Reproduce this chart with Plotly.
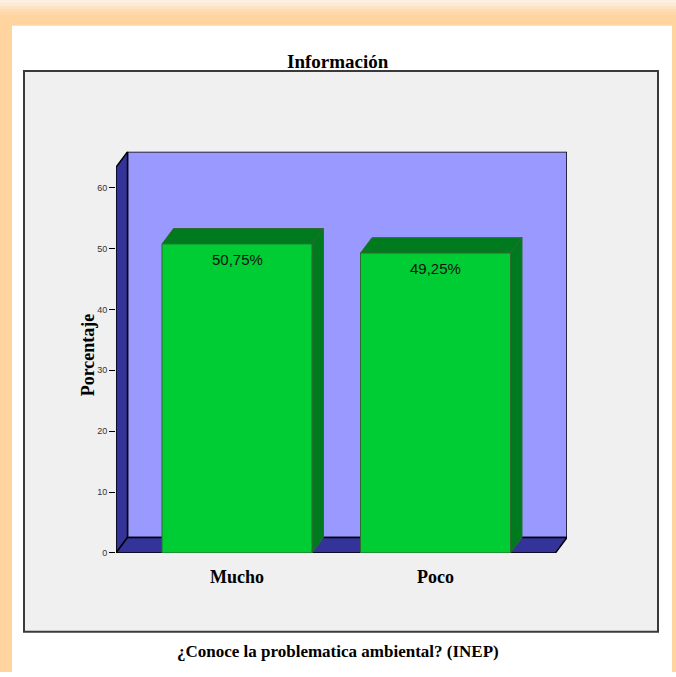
import plotly.graph_objects as go

categories = ["Mucho", "Poco"]
percentages = [50.75, 49.25]
y_ticks = [0, 10, 20, 30, 40, 50, 60]

W, H = 676, 677

# pixel geometry of the 3D plot frame
X0, X1 = 116, 567          # left axis / right edge of back wall
Y_BOT, Y_TOP = 557, 153    # front floor line / top of back wall
PX_PER_UNIT = (557 - 189) / 60
SLOT_PX = 198.5            # distance between category centres
FIRST_CENTRE = 237
DEPTH_X, DEPTH_Y = 11.5, 15.5
BAR_PX = 150

x_range = [(X0 - FIRST_CENTRE) / SLOT_PX, (X1 - FIRST_CENTRE) / SLOT_PX]
y_range = [0, (Y_BOT - Y_TOP) / PX_PER_UNIT]
dx = DEPTH_X / SLOT_PX
dy = DEPTH_Y / PX_PER_UNIT
bar_w = BAR_PX / SLOT_PX

ORANGE = "#FFD49E"
WALL_BACK = "#9999FF"
WALL_DARK = "#333399"
BAR_FRONT = "#00CC33"
BAR_DARK = "#007A1E"
SERIF = "Liberation Serif, Times New Roman, serif"
SANS = "Arial, Liberation Sans, sans-serif"


def py(y):
    return 1 - y / H


def px(x):
    return x / W


xs = list(range(len(categories)))

fig = go.Figure(go.Bar(
    x=xs,
    y=percentages,
    width=bar_w,
    marker={"color": BAR_FRONT, "line": {"color": "#2E6B2E", "width": 1}},
    hoverinfo="skip",
))

shapes = []

# orange page frame (left, right, top with a light gradient)
shapes.append(dict(type="rect", xref="paper", yref="paper", layer="below",
                   x0=0, x1=px(12), y0=0, y1=1, fillcolor=ORANGE, line={"width": 0}))
shapes.append(dict(type="rect", xref="paper", yref="paper", layer="below",
                   x0=px(672), x1=1, y0=0, y1=1, fillcolor=ORANGE, line={"width": 0}))
shapes.append(dict(type="rect", xref="paper", yref="paper", layer="below",
                   x0=0, x1=1, y0=py(26), y1=1, fillcolor=ORANGE, line={"width": 0}))
top_cols = ["#FDF0E0", "#FDEAD2", "#FEE3C3", "#FEDDB4", "#FED8A8"]
for i, c in enumerate(top_cols):
    shapes.append(dict(type="rect", xref="paper", yref="paper", layer="below",
                       x0=0, x1=1, y0=py(i * 3 + 3), y1=py(i * 3),
                       fillcolor=c, line={"width": 0}))
# chart box
shapes.append(dict(type="rect", xref="paper", yref="paper", layer="below",
                   x0=px(24), x1=px(658), y0=py(636.5), y1=py(71.5),
                   fillcolor="#F0F0F0", line={"color": "#3A3A3A", "width": 2}))

xl, xr = x_range
yt = y_range[1]
# back wall
shapes.append(dict(type="rect", xref="x", yref="y", layer="below",
                   x0=xl + dx, x1=xr, y0=dy, y1=yt,
                   fillcolor=WALL_BACK, line={"color": "black", "width": 1.5}))
# left wall
shapes.append(dict(type="path", xref="x", yref="y", layer="below",
                   path=f"M{xl},0 L{xl},{yt - dy} L{xl + dx},{yt} L{xl + dx},{dy} Z",
                   fillcolor=WALL_DARK, line={"color": "black", "width": 1.5}))
# floor
shapes.append(dict(type="path", xref="x", yref="y", layer="below",
                   path=f"M{xl},0 L{xr - dx},0 L{xr},{dy} L{xl + dx},{dy} Z",
                   fillcolor=WALL_DARK, line={"color": "black", "width": 1.5}))

# top and side faces of the bars
for x, v in zip(xs, percentages):
    a, b = x - bar_w / 2, x + bar_w / 2
    shapes.append(dict(type="path", xref="x", yref="y", layer="below",
                       path=f"M{a},{v} L{a + dx},{v + dy} L{b + dx},{v + dy} L{b},{v} Z",
                       fillcolor=BAR_DARK, line={"color": "#2E6B2E", "width": 1}))
    shapes.append(dict(type="path", xref="x", yref="y", layer="below",
                       path=f"M{b},0 L{b},{v} L{b + dx},{v + dy} L{b + dx},{dy} Z",
                       fillcolor=BAR_DARK, line={"color": "#2E6B2E", "width": 1}))

annotations = [
    dict(text="<b>Información</b>", xref="paper", yref="paper", x=px(338), y=py(62),
         xanchor="center", yanchor="middle", showarrow=False,
         font={"family": SERIF, "size": 19, "color": "black"}),
    dict(text="<b>¿Conoce la problematica ambiental? (INEP)</b>", xref="paper", yref="paper",
         x=px(338), y=py(656), xanchor="center", yanchor="middle", showarrow=False,
         font={"family": SERIF, "size": 17, "color": "black"}),
    dict(text="<b>Porcentaje</b>", xref="paper", yref="paper", x=px(88), y=py(358),
         xanchor="center", yanchor="middle", showarrow=False, textangle=-90,
         font={"family": SERIF, "size": 18, "color": "black"}),
]
# value labels just inside the top of each bar
for x, v in zip(xs, percentages):
    annotations.append(dict(
        x=x, y=v, xref="x", yref="y", text=f"{v:.2f}%".replace(".", ","),
        xanchor="center", yanchor="top", yshift=-5, showarrow=False,
        font={"family": SANS, "size": 15, "color": "#111111"},
    ))

fig.update_layout(
    width=W, height=H,
    margin={"l": 0, "r": 0, "t": 0, "b": 0},
    paper_bgcolor="white",
    plot_bgcolor="rgba(0,0,0,0)",
    showlegend=False,
    shapes=shapes,
    annotations=annotations,
    xaxis={
        "domain": [px(X0), px(X1)], "range": x_range,
        "tickvals": xs, "ticktext": categories,
        "tickfont": {"family": SERIF, "size": 18, "color": "black", "weight": "bold"},
        "ticks": "outside", "ticklen": 8, "tickcolor": "rgba(0,0,0,0)",
        "showgrid": False, "zeroline": False, "showline": False,
    },
    yaxis={
        "domain": [py(Y_BOT), py(Y_TOP)], "range": y_range,
        "tickvals": y_ticks,
        "tickfont": {"family": SANS, "size": 9, "color": "#333333"},
        "ticks": "outside", "ticklen": 6, "tickcolor": "black", "tickwidth": 1,
        "showgrid": False, "zeroline": False, "showline": False,
    },
)

fig.write_html(
    "out.html",
    config={"displayModeBar": False},
    post_script=(
        "document.documentElement.style.margin='0';"
        "document.documentElement.style.overflow='hidden';"
        "document.body.style.margin='0';document.body.style.overflow='hidden';"
    ),
)
